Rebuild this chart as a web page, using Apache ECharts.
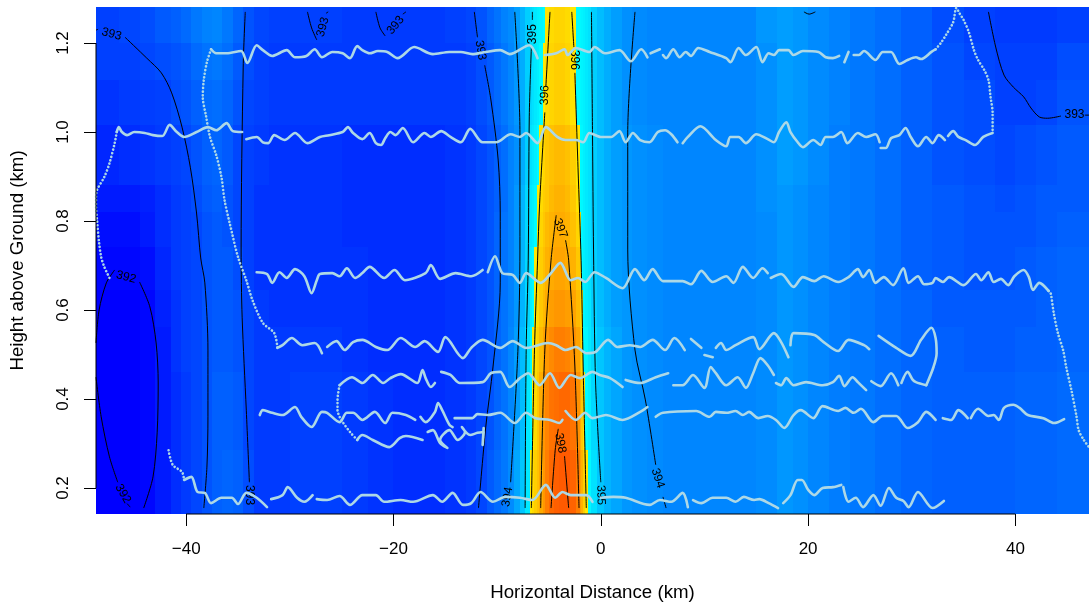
<!DOCTYPE html>
<html><head><meta charset="utf-8">
<style>html,body{margin:0;padding:0;background:#fff}#c{width:1089px;height:607px}</style>
<script src="https://cdn.jsdelivr.net/npm/echarts@6/dist/echarts.min.js"></script>
</head><body><div id="c"></div>
<script>
const xTicks=[-40,-20,0,20,40];
const yTicks=[0.2,0.4,0.6,0.8,1.0,1.2];
const xRange=[-48.7,47.1];
const yRange=[0.1416,1.281];
// field cell edges
const xEdges=[-48.7,-46.5,-44.5,-43,-41.5,-40.5,-39.5,-38.5,-37.5,-36.5,-35.5,-34.5,-33.5,-32,-30,-27.5,-25,-22.5,-20,-17.5,-15,-13,-12,-11,-10.3,-9.6,-9,-8.4,-7.8,-7.3,-6.8,-6.6,-6.4,-6.2,-6.0,-5.6,-5.4,-5,-4.5,-4,-3.5,-3,-2.4,-2.0,-1.9,-1.7,-1.5,-1.2,-0.9,-0.4,0.3,1,2,3,4.5,6,8,10,12.5,15,17,18.5,20,22,24,26.5,29,32,35,38,40,42,44,47.1];
const hEdges=[0.1416,0.285,0.461,0.562,0.645,0.742,0.820,0.881,1.016,1.117,1.200,1.281];
const row0=[392.0,392.0,392.1,392.4,392.7,392.9,393.1,393.3,393.5,393.6,393.5,393.2,392.9,392.9,393.0,393.0,392.9,392.8,392.7,392.7,392.8,392.9,393.1,393.4,393.7,394.0,394.4,394.8,395.2,395.6,396.0,396.2,396.4,396.6,396.9,397.2,397.6,398.0,398.2,398.3,398.3,398.1,397.6,397.1,396.8,396.4,396.0,395.8,395.5,395.2,395.0,394.8,394.6,394.5,394.4,394.3,394.3,394.3,394.3,394.4,394.6,394.5,394.3,394.1,394.0,393.8,393.6,393.5,393.5,393.5,393.6,393.6,393.7];
const row1=[392.0,392.0,392.1,392.4,392.7,392.9,393.1,393.3,393.5,393.5,393.4,393.1,392.9,392.9,393.0,393.0,392.9,392.8,392.7,392.7,392.8,392.9,393.1,393.3,393.6,393.9,394.3,394.7,395.1,395.6,395.85,396.0,396.2,396.5,396.9,397.2,397.5,397.8,397.9,398.0,398.0,397.8,397.3,396.9,396.5,396.1,395.85,395.7,395.4,395.2,395.0,394.8,394.6,394.5,394.4,394.3,394.3,394.3,394.3,394.4,394.6,394.5,394.3,394.1,394.0,393.8,393.6,393.5,393.5,393.5,393.6,393.6,393.7];
const row2=[392.0,392.0,392.1,392.4,392.8,393.0,393.1,393.3,393.4,393.4,393.3,393.1,392.9,392.9,392.9,392.9,392.8,392.7,392.7,392.7,392.8,392.9,393.1,393.3,393.6,393.9,394.3,394.7,395.1,395.5,395.8,396.0,396.2,396.4,396.7,397.0,397.2,397.4,397.6,397.6,397.5,397.3,397.0,396.7,396.3,395.85,395.8,395.6,395.4,395.2,395.0,394.8,394.6,394.5,394.4,394.3,394.3,394.3,394.3,394.4,394.6,394.5,394.3,394.1,394.0,393.8,393.6,393.5,393.4,393.4,393.5,393.5,393.6];
const row3=[392.0,392.0,392.1,392.5,392.8,393.0,393.1,393.3,393.4,393.4,393.3,393.1,392.9,392.8,392.8,392.8,392.8,392.7,392.7,392.7,392.8,392.9,393.1,393.3,393.6,393.9,394.2,394.6,395.0,395.4,395.7,395.85,396.0,396.2,396.5,396.7,396.9,397.1,397.2,397.2,397.1,397.0,396.7,396.4,396.1,395.8,395.7,395.6,395.3,395.1,394.9,394.7,394.6,394.5,394.4,394.3,394.3,394.3,394.3,394.4,394.6,394.5,394.3,394.1,394.0,393.8,393.6,393.4,393.4,393.4,393.4,393.5,393.6];
const row4=[392.1,392.1,392.2,392.6,392.9,393.0,393.1,393.3,393.4,393.4,393.2,393.0,392.8,392.8,392.8,392.8,392.8,392.7,392.7,392.7,392.8,392.9,393.1,393.3,393.6,393.9,394.2,394.6,395.0,395.4,395.7,395.8,396.0,396.2,396.4,396.6,396.8,396.9,397.0,397.0,396.9,396.8,396.5,396.2,395.85,395.7,395.6,395.5,395.3,395.1,394.9,394.7,394.6,394.5,394.4,394.3,394.3,394.3,394.3,394.4,394.6,394.5,394.3,394.1,394.0,393.8,393.5,393.4,393.3,393.3,393.4,393.5,393.6];
const row5=[392.2,392.2,392.4,392.7,392.9,393.0,393.1,393.3,393.4,393.3,393.1,393.0,392.8,392.8,392.8,392.8,392.7,392.7,392.7,392.7,392.8,392.9,393.1,393.3,393.6,393.9,394.2,394.6,395.0,395.4,395.6,395.7,395.85,396.1,396.3,396.5,396.7,396.8,396.9,396.9,396.8,396.6,396.3,396.0,395.8,395.7,395.6,395.5,395.3,395.1,394.9,394.7,394.6,394.5,394.4,394.3,394.3,394.3,394.3,394.4,394.6,394.5,394.3,394.1,394.0,393.8,393.5,393.4,393.3,393.3,393.3,393.4,393.5];
const row6=[392.4,392.4,392.5,392.7,392.9,393.0,393.2,393.4,393.5,393.3,393.1,393.0,392.8,392.8,392.8,392.8,392.7,392.7,392.7,392.7,392.8,392.9,393.1,393.3,393.5,393.8,394.2,394.6,395.0,395.4,395.6,395.7,395.8,396.0,396.2,396.4,396.5,396.7,396.8,396.8,396.7,396.5,396.1,395.85,395.8,395.7,395.6,395.5,395.3,395.1,394.9,394.7,394.6,394.5,394.4,394.3,394.3,394.3,394.3,394.5,394.6,394.5,394.3,394.1,394.0,393.8,393.5,393.4,393.3,393.2,393.3,393.4,393.4];
const row7=[392.6,392.7,392.8,392.9,393.0,393.1,393.3,393.5,393.6,393.4,393.1,393.0,392.9,392.8,392.8,392.8,392.7,392.7,392.7,392.7,392.8,392.9,393.1,393.3,393.5,393.8,394.2,394.5,394.9,395.3,395.5,395.6,395.7,395.85,396.1,396.3,396.5,396.6,396.7,396.7,396.6,396.4,396.0,395.85,395.8,395.7,395.6,395.5,395.3,395.1,394.9,394.7,394.6,394.5,394.4,394.3,394.3,394.3,394.3,394.5,394.7,394.6,394.4,394.1,394.0,393.8,393.5,393.3,393.2,393.1,393.2,393.3,393.4];
const row8=[392.8,392.9,392.95,393.0,393.2,393.3,393.5,393.7,393.8,393.6,393.3,393.1,393.0,392.9,392.9,392.9,392.9,392.9,392.9,392.9,392.9,393.0,393.2,393.4,393.7,394.0,394.3,394.6,394.9,395.3,395.4,395.5,395.6,395.7,395.85,396.0,396.2,396.3,396.4,396.4,396.3,396.1,395.85,395.8,395.75,395.7,395.6,395.5,395.3,395.1,394.9,394.7,394.5,394.4,394.3,394.3,394.3,394.3,394.3,394.5,394.7,394.6,394.4,394.2,394.0,393.8,393.5,393.3,393.2,393.0,393.0,393.1,393.3];
const row8b=[393.0,393.0,393.1,393.2,393.3,393.4,393.7,393.9,394.0,393.8,393.4,393.2,393.0,392.9,392.9,392.9,392.9,392.9,392.9,392.9,392.9,393.0,393.2,393.4,393.7,394.0,394.3,394.6,394.9,395.3,395.4,395.5,395.6,395.7,395.85,396.0,396.2,396.3,396.4,396.4,396.3,396.1,395.85,395.8,395.75,395.7,395.6,395.5,395.3,395.1,394.9,394.7,394.5,394.4,394.3,394.3,394.3,394.3,394.3,394.5,394.7,394.6,394.4,394.2,394.0,393.8,393.5,393.3,393.1,393.0,393.0,393.0,393.2];
const row9=[393.0,393.1,393.2,393.4,393.5,393.7,394.0,394.2,394.3,394.0,393.6,393.3,393.1,393.0,393.0,393.0,392.9,392.9,392.9,392.9,393.0,393.1,393.3,393.6,393.9,394.2,394.4,394.7,395.0,395.3,395.4,395.5,395.6,395.7,395.75,395.85,396.1,396.2,396.3,396.3,396.2,396.0,395.85,395.8,395.75,395.7,395.6,395.5,395.3,395.1,394.9,394.7,394.5,394.4,394.3,394.3,394.3,394.3,394.3,394.6,394.7,394.6,394.4,394.2,394.0,393.8,393.5,393.2,393.0,392.9,392.9,392.9,393.0];
const fieldRows=[row0,row1,row2,row3,row4,row5,row6,row7,row8,row8b,row9];
// colour scale: level -> colour
const levels=[392,392.5,393,393.5,394,394.5,395,395.5,395.89,395.9,396,396.5,397,397.5,398,398.4];
const levelColors=[[0,0,255],[0,32,255],[0,64,255],[0,96,255],[0,120,255],[0,144,255],[0,180,255],[0,225,255],[0,255,255],[255,255,0],[255,232,0],[255,200,0],[255,164,0],[255,132,0],[255,104,0],[255,85,0]];

// flight track, [km, km]; _ marks a gap in the record
const _=['-','-'];
const legA=[[-37.6,1.186],[-37.1,1.177],[-36.1,1.177],[-34.7,1.182],[-34.1,1.155],[-33.2,1.195],[-32.6,1.184],[-31.7,1.171],[-30.3,1.184],[-29.5,1.168],[-28.4,1.171],[-27.6,1.186],[-26.9,1.168],[-25.9,1.180],[-24.9,1.177],[-24.2,1.166],[-23.5,1.193],[-23.0,1.184],[-22.3,1.177],[-21.5,1.182],[-20.6,1.180],[-19.6,1.166],[-18.0,1.191],[-16.2,1.175],[-14.6,1.180],[-13.5,1.180],[-12.4,1.175],[-11.1,1.180],[-9.7,1.184],[-8.8,1.175],[-6.9,1.195],[-6.1,1.166],_,[-5.4,1.173],[-4.3,1.177],[-3.5,1.186],[-3.2,1.173],[-2.4,1.189],[-1.1,1.180],[-0.6,1.191],[0.4,1.177],[1.8,1.184],[2.9,1.159],[3.9,1.186],[4.5,1.168],_,[4.8,1.177],[5.7,1.186],_,[6.0,1.173],[6.3,1.166],[7.0,1.186],[7.6,1.168],[8.2,1.180],[8.7,1.171],[9.4,1.189],[10.5,1.180],[12.1,1.166],[12.5,1.157],[13.3,1.189],[14.0,1.173],[15.0,1.191],[15.6,1.157],[16.2,1.177],[16.7,1.173],[17.2,1.184],[18.1,1.184],[18.6,1.173],[19.5,1.182],[21.0,1.180],[21.7,1.168],[22.4,1.166],[23.0,1.171],_,[23.5,1.157],[23.9,1.180],_,[24.4,1.173],[24.9,1.173],[25.4,1.182],[26.5,1.162],[27.2,1.180],[28.0,1.180],[28.8,1.153],[29.6,1.162],[30.4,1.168],[30.9,1.164],[31.9,1.180],[32.3,1.186]];
const climbA=[[32.3,1.186],[32.8,1.200],[33.3,1.218],[34.0,1.247],[34.3,1.279],[34.6,1.267],[35.0,1.252],[35.5,1.225],[36.0,1.184],[36.4,1.162],[37.0,1.139],[37.4,1.117],[37.6,1.079],[37.8,1.043],[37.8,0.998]];
const legB=[[37.8,0.998],[36.9,0.989],[36.1,0.971],[35.2,0.982],[34.5,0.989],[34.0,1.002],[33.5,0.991],_,[33.2,0.982],[32.6,0.993],[32.0,0.975],[31.4,0.989],[30.6,0.968],[29.9,0.989],[29.4,1.009],[28.8,0.993],[28.0,0.986],[27.5,0.964],[27.0,0.964],_,[26.9,0.977],[26.5,0.995],[25.6,0.989],[24.8,0.998],[23.8,0.975],[23.2,1.000],[22.4,0.989],[21.7,0.989],[21.2,0.971],[20.5,0.982],[19.5,0.966],[19.0,0.977],[18.3,1.000],[17.9,1.022],[17.2,1.000],[16.7,0.977],[16.1,0.984],[15.0,0.995],[14.0,0.975],[13.3,0.989],[12.5,0.989],[12.1,0.968],[11.1,0.982],[9.6,1.013],[8.4,0.989],[7.9,0.975],_,[7.4,0.977],[6.8,0.995],[6.2,1.004],[5.5,1.000],[4.7,0.977],[3.8,0.982],[3.1,0.998],[2.4,0.977],[1.8,1.002],[1.0,0.989],[0.0,0.989],[-1.1,0.998],[-1.7,0.977],[-2.4,0.982],[-3.4,0.982],[-4.2,0.989],[-5.3,1.011],[-6.1,0.975],[-7.2,0.998],[-7.8,0.989],[-8.7,0.995],[-10.1,0.977],[-11.4,0.977],[-12.6,1.007],[-13.5,0.977],[-14.5,0.989],[-15.4,1.002],[-16.4,0.989],[-17.0,0.998],[-18.1,0.977],[-19.1,1.009],[-19.8,0.993],[-20.3,1.000],[-20.8,0.986],[-21.2,0.971],[-21.7,0.975],[-22.3,0.998],[-23.0,0.984],[-23.9,0.998],[-24.4,1.011],[-24.9,1.000],[-26.2,0.993],[-27.1,0.989],[-28.3,0.975],[-29.5,0.998],[-30.5,0.982],[-31.5,0.993],[-32.1,0.975],[-32.6,0.977],[-33.2,0.989],[-34.2,0.984],_,[-34.6,1.000],[-35.5,1.002],[-36.1,1.020],[-37.1,1.004],[-37.9,1.011],[-39.0,1.000],[-40.2,0.989],[-40.9,1.000],[-41.6,1.016],[-42.3,0.991],[-43.2,0.993],[-44.0,0.998],[-45.0,1.000],[-45.7,0.993],[-46.2,1.000],[-46.5,1.011],[-46.7,1.000]];
const climbB=[[-46.7,1.000],[-46.9,0.975],[-47.4,0.930],[-47.9,0.899],[-48.6,0.870],[-48.7,0.854],[-48.7,0.831],[-48.6,0.802],[-48.4,0.751],[-48.2,0.719],[-47.9,0.697],[-47.4,0.672]];
const climbC=[[-37.6,1.186],[-38.0,1.157],[-38.3,1.117],[-38.4,1.079],[-38.1,1.038],[-37.7,0.989],[-37.1,0.948],[-36.6,0.899],[-36.3,0.847],[-35.8,0.795],[-35.0,0.719],[-34.2,0.667],[-33.6,0.622],[-32.6,0.571],[-31.5,0.548],[-31.2,0.515]];
const legC=[[-33.2,0.685],[-32.2,0.681],[-31.7,0.661],[-31.0,0.685],[-30.3,0.672],[-29.5,0.692],[-28.6,0.676],[-27.9,0.638],[-27.4,0.667],[-27.1,0.681],[-25.9,0.683],[-25.2,0.676],[-24.5,0.694],[-23.7,0.672],[-23.0,0.683],[-22.3,0.697],[-20.9,0.672],[-19.9,0.690],[-18.9,0.667],[-16.9,0.683],[-16.4,0.701],[-15.5,0.670],[-14.0,0.683],[-12.5,0.676],[-11.4,0.690],_,[-10.9,0.685],[-10.2,0.721],[-9.5,0.683],[-8.5,0.679],[-7.8,0.661],[-7.2,0.683],[-5.8,0.661],[-4.8,0.683],[-3.9,0.706],[-2.9,0.667],[-2.2,0.672],[-1.5,0.663],[-0.6,0.685],[0.5,0.672],[2.1,0.649],[3.3,0.692],[4.2,0.667],[5.0,0.692],[6.0,0.665],[7.9,0.665],[8.7,0.658],[9.7,0.688],[10.8,0.663],[12.1,0.676],[12.8,0.661],[13.7,0.697],[14.7,0.672],[15.6,0.694],[16.1,0.683],_,[16.4,0.672],[17.4,0.681],[18.6,0.652],[19.5,0.674],[20.6,0.665],[21.5,0.676],[22.9,0.663],[23.9,0.674],[24.8,0.692],[25.3,0.674],[25.9,0.690],[26.5,0.661],[27.3,0.674],[28.2,0.656],[29.2,0.694],[29.7,0.661],[30.6,0.676],[31.2,0.658],[32.0,0.661],[32.3,0.672],[33.0,0.663],[33.6,0.674],[35.0,0.656],[36.2,0.681],[36.7,0.667],[37.4,0.685],[37.9,0.663],[38.6,0.670],[39.3,0.656],[39.9,0.676],[40.8,0.690],[41.3,0.674],[41.7,0.645],[42.3,0.661],[43.2,0.643]];
const climbD=[[43.2,0.643],[43.4,0.638],[43.7,0.593],[44.1,0.548],[44.6,0.510],[44.9,0.472],[45.4,0.420],[45.9,0.360],[46.1,0.330],[46.6,0.308],[47.1,0.292]];
const legD=[[-31.2,0.515],[-30.7,0.521],[-29.8,0.537],[-28.8,0.521],[-27.6,0.526],[-26.9,0.503],_,[-26.4,0.517],[-25.5,0.530],[-24.7,0.510],[-23.9,0.528],[-23.0,0.533],[-21.7,0.517],[-20.6,0.510],[-19.3,0.537],[-17.9,0.517],[-17.0,0.530],[-15.7,0.506],[-15.0,0.539],[-13.3,0.492],[-12.5,0.515],[-11.4,0.533],[-9.7,0.515],[-8.5,0.530],[-7.2,0.515],[-6.6,0.517],[-5.1,0.526],[-4.3,0.521],[-3.4,0.510],[-2.4,0.517],[-1.4,0.503],[-0.5,0.506],[0.7,0.533],[1.6,0.517],[2.8,0.521],[3.8,0.517],[5.0,0.533],[6.2,0.510],[7.1,0.537],[8.1,0.510],_,[8.7,0.535],[9.7,0.515],_,[10.0,0.499],[10.8,0.494],_,[11.1,0.515],[11.6,0.526],[12.1,0.510],[13.0,0.521],[14.7,0.539],[15.3,0.512],[16.7,0.548],[17.4,0.528],[18.1,0.494],_,[18.3,0.521],[18.6,0.548],[20.6,0.544],[21.5,0.528],[22.9,0.508],[23.9,0.533],[25.4,0.521],[25.9,0.512],_,[26.8,0.542],[28.5,0.515],[29.9,0.497],[30.9,0.533],[31.9,0.560],[32.3,0.537],[32.4,0.503],[32.1,0.472],[31.4,0.431]];
const legE=[[31.4,0.431],[30.4,0.438],[30.1,0.443],[29.6,0.461],[29.0,0.436],_,[28.7,0.431],[28.0,0.458],[27.0,0.429],[26.1,0.440],_,[25.6,0.420],[24.8,0.438],[24.3,0.449],[23.5,0.429],[23.0,0.452],[22.4,0.438],[21.4,0.431],[19.8,0.438],[18.6,0.431],[17.9,0.447],[17.4,0.431],[16.9,0.436],_,[16.7,0.454],[16.1,0.476],[15.4,0.492],[14.7,0.458],[14.0,0.425],[13.2,0.449],[12.1,0.431],[11.1,0.458],[10.6,0.472],[10.0,0.425],[8.9,0.454],[7.9,0.431],[7.0,0.431],_,[6.5,0.458],[5.3,0.449],[3.8,0.436],[2.4,0.443],_,[2.1,0.427],[0.9,0.447],[-0.1,0.454],[-0.8,0.461],[-2.0,0.447],[-2.9,0.454],[-4.0,0.425],[-4.9,0.458],[-5.9,0.431],[-7.0,0.458],[-7.8,0.447],[-8.8,0.427],[-9.7,0.461],[-10.6,0.458],[-11.4,0.438],[-13.6,0.436],[-14.5,0.454],[-15.4,0.461],_,[-16.0,0.436],[-16.4,0.427],[-16.9,0.447],[-17.2,0.465],[-17.7,0.436],[-19.3,0.456],[-20.3,0.447],[-21.0,0.436],[-22.0,0.454],[-23.0,0.436],[-24.0,0.449],[-25.2,0.431]];
const climbE=[[-25.2,0.431],[-25.4,0.398],[-25.4,0.375],[-25.2,0.360],[-24.9,0.348],[-24.2,0.326],[-23.5,0.308]];
const legE2=[[-23.5,0.308],[-23.0,0.319],[-22.0,0.308],[-20.4,0.292],[-19.4,0.312],[-18.8,0.317],[-17.2,0.308],_,[-16.7,0.326],[-16.2,0.330],[-15.5,0.301],[-14.8,0.290],[-15.5,0.308],[-14.6,0.330],[-13.8,0.308],[-13.1,0.326],[-13.4,0.337],[-12.6,0.319],[-11.9,0.324],[-11.3,0.326],[-11.4,0.297],[-11.3,0.335]];
const legF=[[-32.9,0.364],[-32.6,0.375],[-31.7,0.369],[-30.7,0.364],[-29.5,0.382],[-28.9,0.360],[-27.9,0.337],[-26.9,0.371],[-26.4,0.369],[-25.2,0.348],[-24.5,0.369],[-23.9,0.369],[-23.0,0.353],[-21.8,0.371],[-20.8,0.346],[-20.1,0.369],[-18.8,0.364],[-17.9,0.353],_,[-17.4,0.360],[-16.9,0.348],[-16.0,0.371],[-15.7,0.391],[-15.3,0.375],[-14.6,0.342],[-14.3,0.337],_,[-14.1,0.357],[-13.3,0.357],[-12.4,0.357],[-11.9,0.366],[-10.9,0.364],[-9.7,0.369],[-8.3,0.346],[-7.2,0.369],[-6.3,0.357],[-4.9,0.353],[-4.0,0.346],[-3.7,0.353],_,[-3.4,0.373],[-2.4,0.353],[-1.5,0.369],[-0.8,0.357],[0.5,0.364],[2.1,0.353],[3.8,0.371],[4.5,0.382],_,[5.0,0.373],_,[5.3,0.360],[6.0,0.369],[9.2,0.373],[10.5,0.360],[11.1,0.371],[12.1,0.369],[13.0,0.373],[13.7,0.364],[14.3,0.371],[15.2,0.357],[16.1,0.362],[16.9,0.353],[17.7,0.335],[18.6,0.364],[19.3,0.375],[20.5,0.357],[21.4,0.384],[22.9,0.373],[23.6,0.380],[24.4,0.369],[25.1,0.378],[26.3,0.348],[27.2,0.362],[28.5,0.362],[29.6,0.335],[30.6,0.348],[31.4,0.371],[32.3,0.353],_,[33.0,0.357],[33.8,0.353],[34.5,0.375],[35.4,0.357],_,[35.7,0.357],[36.4,0.378],[37.4,0.362],[37.9,0.364],[38.4,0.353],[38.9,0.380],[39.8,0.387],[40.4,0.380],[41.2,0.364],[42.7,0.357],[43.7,0.346],[44.7,0.355]];
const climbG=[[-41.7,0.285],[-41.3,0.252],[-40.4,0.236],[-40.2,0.218]];
const legG=[[-40.2,0.218],[-39.5,0.225],[-38.9,0.191],[-38.2,0.189],[-37.6,0.166],[-36.6,0.178],[-35.6,0.178],[-35.0,0.164],[-34.2,0.189],[-33.2,0.178],[-32.2,0.157],_,[-31.8,0.175],[-30.7,0.184],[-30.2,0.202],[-29.3,0.178],[-28.6,0.169],[-27.8,0.184],_,[-27.4,0.175],[-26.4,0.173],[-25.2,0.182],[-24.2,0.162],[-23.0,0.184],[-21.7,0.184],[-20.9,0.169],[-19.3,0.173],[-18.1,0.169],[-16.2,0.184],[-15.3,0.169],[-14.3,0.189],[-13.3,0.162],[-12.5,0.166],[-11.6,0.191],[-10.4,0.169],[-9.2,0.180],[-7.8,0.178],[-6.6,0.173],[-5.3,0.207],[-4.4,0.178],[-3.7,0.191],[-2.9,0.184],[-1.4,0.184],[-0.8,0.169],_,[0.0,0.178],[1.2,0.180],[2.4,0.178],[4.7,0.162],[5.7,0.173],[6.8,0.169],[7.9,0.189],[8.4,0.157],_,[8.9,0.173],[9.7,0.166],[10.8,0.178],[12.1,0.178],[13.0,0.169],[13.8,0.180],[14.8,0.173],[15.3,0.175],[16.2,0.166],[17.1,0.155],_,[17.6,0.166],[18.3,0.184],[19.0,0.218],[19.4,0.218],[20.0,0.196],[20.6,0.184],[21.4,0.200],[22.4,0.202],[23.2,0.207],_,[23.4,0.202],[23.9,0.169],[24.6,0.178],[25.3,0.157],[26.3,0.184],[27.0,0.160],[27.8,0.200],[28.5,0.178],[29.2,0.171],[29.7,0.157],[30.6,0.191],[32.0,0.155],[33.1,0.171]];
const trackLegs=[legA,legB,legC,legD,legE,legE2,legF,legG];
const trackClimbs=[climbA,climbB,climbC,climbD,climbE,climbG];

// contour lines, one array per piece
const c392a=[[-46.9,0.690],[-47.7,0.661],[-48.4,0.600],[-48.7,0.526]];
const c392b=[[-48.7,0.449],[-48.2,0.360],[-47.4,0.270],[-46.6,0.213]];
const c392c=[[-45.7,0.165],[-45.4,0.157]];
const c392d=[[-44.5,0.663],[-43.5,0.607],[-42.9,0.526],[-42.7,0.436],[-42.8,0.324],[-43.2,0.225],[-44.1,0.155]];
const c393a=[[-48.7,1.229],[-48.5,1.231]];
const c393b=[[-45.9,1.213],[-43.8,1.166],[-42.4,1.133],[-41.4,1.088],[-40.4,1.011],[-39.6,0.921],[-39.0,0.818],[-38.6,0.717],[-38.2,0.661],[-37.9,0.510],[-37.9,0.360],[-38.0,0.247],[-38.3,0.155]];
const c393c=[[-34.3,1.270],[-34.5,1.146],[-34.7,0.735],[-34.6,0.584],[-34.2,0.375],[-33.9,0.213]];
const c393d=[[-28.3,1.270],[-27.9,1.234],[-27.4,1.207]];
const c393e=[[-26.5,1.267],[-26.3,1.270]];
const c393f=[[-21.7,1.270],[-21.3,1.234],[-20.8,1.216]];
const c393g=[[-19.1,1.265],[-18.8,1.270]];
const c393h=[[-12.2,1.270],[-11.9,1.213]];
const c393i=[[-11.2,1.150],[-10.6,1.072],[-9.9,0.937],[-9.7,0.818],[-9.7,0.661],[-10.4,0.472],[-11.1,0.337],[-11.8,0.155]];
const c394a=[[-8.3,1.270],[-7.8,0.998],[-7.8,0.735],[-8.0,0.507],[-8.7,0.213]];
const c395a=[[-6.6,1.270],[-6.6,1.252]];
const c395b=[[-6.7,1.191],[-6.9,1.034],[-7.0,0.712],[-7.2,0.510],[-7.3,0.155]];
const c396a=[[-4.9,1.270],[-5.3,1.102]];
const c396b=[[-5.4,1.044],[-5.9,0.840],[-6.1,0.712],[-6.4,0.510],[-6.7,0.155]];
const c397a=[[-4.3,0.813],[-4.8,0.712],[-5.4,0.510],[-5.8,0.155]];
const c397b=[[-3.4,0.757],[-3.1,0.712],[-2.5,0.472],[-2.1,0.155]];
const c398a=[[-4.1,0.333],[-4.4,0.285],[-4.8,0.155]];
const c398b=[[-3.5,0.272],[-3.1,0.155]];
const c396c=[[-2.8,1.270],[-2.6,1.191]];
const c396d=[[-2.5,1.133],[-2.2,0.921],[-1.9,0.712],[-1.7,0.472],[-1.4,0.155]];
const c395c=[[-0.9,1.270],[-0.8,0.998],[-0.7,0.735],[-0.5,0.436],[0.0,0.213]];
const c394b=[[3.3,1.270],[2.6,0.998],[2.6,0.735],[3.3,0.510],[4.3,0.398],[5.3,0.252]];
const c394c=[[6.0,0.180],[6.3,0.155]];
const c393j=[[37.4,1.270],[38.1,1.191],[38.9,1.128],[39.8,1.101],[40.8,1.079],[41.5,1.054],[42.3,1.034],[43.1,1.031],[44.4,1.036]];
const c393k=[[46.7,1.038],[47.1,1.038]];
const c394d=[[19.6,1.270],[20.1,1.265],[20.7,1.270]];
const contours=[c392a,c392b,c392c,c392d,c393a,c393b,c393c,c393d,c393e,c393f,c393g,c393h,c393i,c394a,c395a,c395b,c396a,c396b,c397a,c397b,c398a,c398b,c396c,c396d,c395c,c394b,c394c,c393j,c393k,c394d];
// contour labels: x, height, level, angle
const contourLabels=[[-45.8,0.674,'392',-15],[-46.1,0.187,'392',-60],[-47.2,1.220,'393',-15],[-33.9,0.184,'393',-90],[-26.8,1.236,'393',75],[-19.8,1.240,'393',50],[-11.6,1.184,'393',-80],[45.7,1.038,'393',0],[-9.0,0.180,'394',80],[5.5,0.222,'394',-72],[-6.6,1.220,'395',90],[0.0,0.184,'395',-88],[-5.4,1.083,'396',88],[-2.6,1.162,'396',-90],[-3.9,0.784,'397',-70],[-3.9,0.301,'398',-80]];

function levelColor(v){
  let i=0; while(i<levels.length-2&&v>levels[i+1])i++;
  const t=Math.max(0,Math.min(1,(v-levels[i])/(levels[i+1]-levels[i])));
  const a=levelColors[i],b=levelColors[i+1];
  return 'rgb('+a.map((c,k)=>Math.round(c+(b[k]-c)*t)).join(',')+')';
}
const FONT='"Liberation Sans", Arial, sans-serif';
const fieldData=[];
fieldRows.forEach((row,r)=>row.forEach((v,i)=>fieldData.push([xEdges[i],xEdges[i+1],hEdges[r],hEdges[r+1],v])));

const series=[];
series.push({type:'custom',coordinateSystem:'cartesian2d',silent:true,z:1,data:fieldData,encode:{x:[0,1],y:[2,3]},animation:false,
  renderItem(p,api){
    const a=api.coord([api.value(0),api.value(3)]),b=api.coord([api.value(1),api.value(2)]);
    const x=Math.round(a[0]),y=Math.round(a[1]);
    return {type:'rect',shape:{x,y,width:Math.round(b[0])-x,height:Math.round(b[1])-y},style:{fill:levelColor(api.value(4))}};
  }});
contours.forEach(c=>series.push({type:'line',data:c,symbol:'none',smooth:0.3,silent:true,z:3,lineStyle:{color:'#000',width:1},animation:false}));
series.push({type:'custom',coordinateSystem:'cartesian2d',silent:true,z:4,data:contourLabels,encode:{x:0,y:1},animation:false,
  renderItem(p,api){
    const c=api.coord([api.value(0),api.value(1)]);
    const d=contourLabels[p.dataIndex];
    return {type:'text',x:c[0],y:c[1],rotation:d[3]*Math.PI/180,style:{text:d[2],fill:'#000',font:'12px '+FONT,align:'center',verticalAlign:'middle'}};
  }});
trackLegs.forEach(l=>series.push({type:'line',data:l,symbol:'none',smooth:0.3,silent:true,z:5,lineStyle:{color:'#add8e6',width:2.6,cap:'round',join:'round'},animation:false}));
trackClimbs.forEach(l=>series.push({type:'line',data:l,symbol:'none',smooth:0.3,silent:true,z:5,lineStyle:{color:'#add8e6',width:2.6,type:[0.1,3.5],cap:'round'},animation:false}));
// R-style axis lines running between the outer ticks only
series.push({type:'line',data:[[xTicks[0],yRange[0]],[xTicks[4],yRange[0]]],symbol:'none',clip:false,silent:true,z:6,lineStyle:{color:'#000',width:1},animation:false});
series.push({type:'line',data:[[xRange[0],yTicks[0]],[xRange[0],yTicks[5]]],symbol:'none',clip:false,silent:true,z:6,lineStyle:{color:'#000',width:1},animation:false});

const chart=echarts.init(document.getElementById('c'),null,{renderer:'canvas'});
chart.setOption({
  animation:false,backgroundColor:'#fff',
  grid:{left:96,right:0,top:7,bottom:93,containLabel:false},
  xAxis:{type:'value',min:xRange[0],max:xRange[1],splitLine:{show:false},
    axisLine:{show:false,onZero:false},
    axisTick:{show:true,length:12,customValues:xTicks,lineStyle:{color:'#000',width:1}},
    axisLabel:{customValues:xTicks,margin:27,fontSize:17,color:'#000',fontFamily:FONT,formatter:v=>String(v).replace('-','\u2212')},
    name:'Horizontal Distance (km)',nameLocation:'middle',nameGap:69,nameTextStyle:{fontSize:18.7,color:'#000',fontFamily:FONT}},
  yAxis:{type:'value',min:yRange[0],max:yRange[1],splitLine:{show:false},
    axisLine:{show:false,onZero:false},
    axisTick:{show:true,length:12,customValues:yTicks,lineStyle:{color:'#000',width:1}},
    axisLabel:{customValues:yTicks,margin:24,rotate:90,fontSize:17,color:'#000',fontFamily:FONT,formatter:v=>v.toFixed(1)},
    name:'Height above Ground (km)',nameLocation:'middle',nameGap:69,nameRotate:90,nameTextStyle:{fontSize:18.7,color:'#000',fontFamily:FONT}},
  series
});
</script></body></html>
